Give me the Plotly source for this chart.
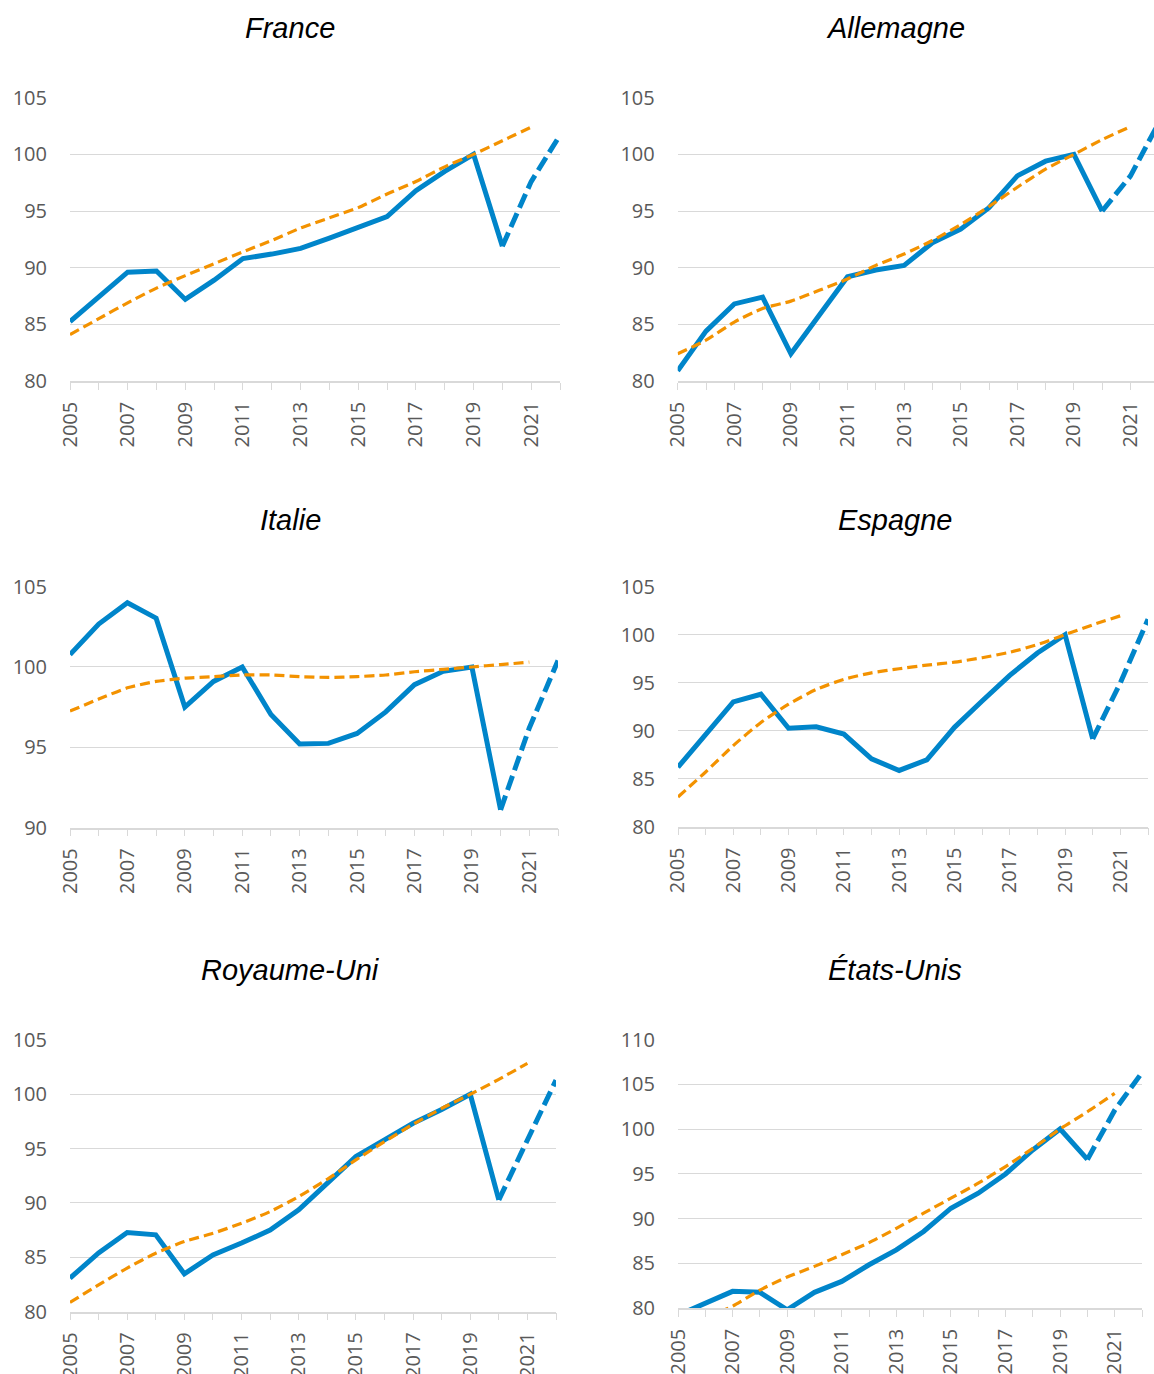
import plotly.graph_objects as go

W, H = 1154, 1374

years = list(range(2005, 2023))          # 2005..2022
trend_years = list(range(2005, 2022))    # 2005..2021
tick_labels = [str(y) if (y - 2005) % 2 == 0 and y < 2022 else "" for y in years]

# ---- data (index 2019 = 100) ----
france_pib = [85.25, 87.4, 89.6, 89.7, 87.2, 88.9, 90.8, 91.2, 91.7, 92.6, 93.55, 94.5, 96.8, 98.5, 100, 91.9, 97.6, 101.7]
france_tend = [84.1, 85.5, 86.9, 88.2, 89.3, 90.35, 91.4, 92.4, 93.5, 94.4, 95.3, 96.5, 97.6, 98.9, 100, 101.2, 102.4]

allemagne_pib = [80.9, 84.4, 86.8, 87.4, 82.4, 85.8, 89.2, 89.8, 90.2, 92.2, 93.4, 95.3, 98.1, 99.4, 100, 95.0, 98.1, 102.8]
allemagne_tend = [82.4, 83.6, 85.2, 86.4, 87.05, 88.0, 89.0, 90.2, 91.2, 92.4, 93.8, 95.4, 97.1, 98.7, 100, 101.3, 102.45]

italie_pib = [100.77, 102.67, 104.0, 103.04, 97.5, 99.1, 100.0, 97.04, 95.2, 95.24, 95.86, 97.2, 98.9, 99.73, 100, 91.1, 96.2, 100.4]
italie_tend = [97.25, 98.0, 98.7, 99.1, 99.3, 99.4, 99.5, 99.5, 99.4, 99.35, 99.4, 99.5, 99.7, 99.85, 100.0, 100.15, 100.3]

espagne_pib = [86.2, 89.65, 93.0, 93.8, 90.25, 90.4, 89.65, 87.07, 85.86, 86.97, 90.35, 93.1, 95.76, 98.1, 100, 89.14, 95.0, 101.6]
espagne_tend = [83.1, 85.7, 88.45, 90.86, 92.76, 94.3, 95.35, 96.03, 96.45, 96.83, 97.14, 97.6, 98.17, 98.97, 100, 101.03, 101.97]

ru_pib = [83.07, 85.4, 87.27, 87.06, 83.47, 85.2, 86.3, 87.5, 89.36, 91.8, 94.26, 95.8, 97.33, 98.6, 100, 90.28, 95.9, 101.3]
ru_tend = [80.83, 82.45, 84.0, 85.37, 86.44, 87.2, 88.13, 89.2, 90.58, 92.18, 93.96, 95.64, 97.24, 98.7, 100, 101.38, 102.85]

eu_pib = [79.2, 80.5, 81.86, 81.75, 79.8, 81.75, 82.97, 84.83, 86.5, 88.55, 91.15, 92.83, 94.98, 97.66, 100, 96.6, 102.1, 106.3]
eu_tend = [77.5, 78.9, 80.2, 82.0, 83.46, 84.65, 85.95, 87.3, 88.9, 90.6, 92.27, 93.94, 95.8, 97.84, 100, 101.93, 103.98]

titles = ["France", "Allemagne", "Italie", "Espagne", "Royaume-Uni", "États-Unis"]
pib = [france_pib, allemagne_pib, italie_pib, espagne_pib, ru_pib, eu_pib]
tend = [france_tend, allemagne_tend, italie_tend, espagne_tend, ru_tend, eu_tend]
y_ranges = [[80, 105], [80, 105], [90, 105], [80, 105], [80, 105], [80, 110]]

# panel geometry in pixels: (x0, x1, ytop, ybottom, x_end_value)
geom = [
    (70, 560, 97.7, 381, 2022),
    (677.7, 1154, 97.7, 381, 2005 + (1154 - 677.7) / 28.3),
    (70, 558, 586.7, 827.5, 2022),
    (678, 1148, 586.7, 826.7, 2022),
    (70, 556, 1040, 1311.5, 2022),
    (678, 1142, 1039.5, 1308, 2022),
]
title_pos = [(290, 28), (895, 28), (290, 520), (895, 520), (290, 970), (895, 970)]

BLUE = "#0085CA"
ORANGE = "#F39200"
GRID = "#D9D9D9"
TXT = "#595959"
FONT = "Open Sans"

fig = go.Figure()
layout = dict(
    width=W, height=H,
    margin=dict(l=0, r=0, t=0, b=0),
    paper_bgcolor="white", plot_bgcolor="white",
    showlegend=False,
    annotations=[],
)

for i in range(6):
    n = i + 1
    xa = "x" if n == 1 else f"x{n}"
    ya = "y" if n == 1 else f"y{n}"
    x0, x1, yt, yb, xend = geom[i]
    layout["xaxis" if n == 1 else f"xaxis{n}"] = dict(
        domain=[x0 / W, x1 / W],
        anchor=ya,
        range=[2005, xend],
        tickmode="array", tickvals=years, ticktext=tick_labels,
        tickangle=-90,
        ticks="outside", ticklen=7, tickwidth=1.3, tickcolor=GRID,
        showline=True, linecolor=GRID, linewidth=1.5,
        showgrid=False, zeroline=False,
        tickfont=dict(family=FONT, size=20, color=TXT),
        ticklabelstandoff=4,
        automargin=False, fixedrange=True,
    )
    layout["yaxis" if n == 1 else f"yaxis{n}"] = dict(
        domain=[1 - yb / H, 1 - yt / H],
        anchor=xa,
        range=y_ranges[i],
        dtick=5, tick0=0,
        showgrid=True, gridcolor=GRID, gridwidth=1.3,
        showline=False, zeroline=False, ticks="",
        tickfont=dict(family=FONT, size=20, color=TXT),
        ticklabelstandoff=22,
        automargin=False, fixedrange=True,
    )
    layout["annotations"].append(dict(
        text=titles[i], x=title_pos[i][0] / W, y=1 - title_pos[i][1] / H,
        xref="paper", yref="paper", xanchor="center", yanchor="middle",
        showarrow=False,
        font=dict(family="Liberation Sans", size=29, color="#000000", style="italic"),
    ))

    vals = pib[i]
    fig.add_trace(go.Scatter(
        x=years[:16], y=vals[:16], xaxis=xa, yaxis=ya, mode="lines",
        line=dict(color=BLUE, width=5), hoverinfo="skip",
    ))
    fig.add_trace(go.Scatter(
        x=years[15:], y=vals[15:], xaxis=xa, yaxis=ya, mode="lines",
        line=dict(color=BLUE, width=5, dash="15px,6px"), hoverinfo="skip",
    ))
    fig.add_trace(go.Scatter(
        x=trend_years, y=tend[i], xaxis=xa, yaxis=ya, mode="lines",
        line=dict(color=ORANGE, width=3.2, dash="10px,5px", shape="spline", smoothing=0.6),
        hoverinfo="skip",
    ))

fig.update_layout(**layout)
fig.write_html(
    "out.html",
    config={"displayModeBar": False},
    post_script="document.body.style.margin='0';document.body.style.overflow='hidden';",
)
